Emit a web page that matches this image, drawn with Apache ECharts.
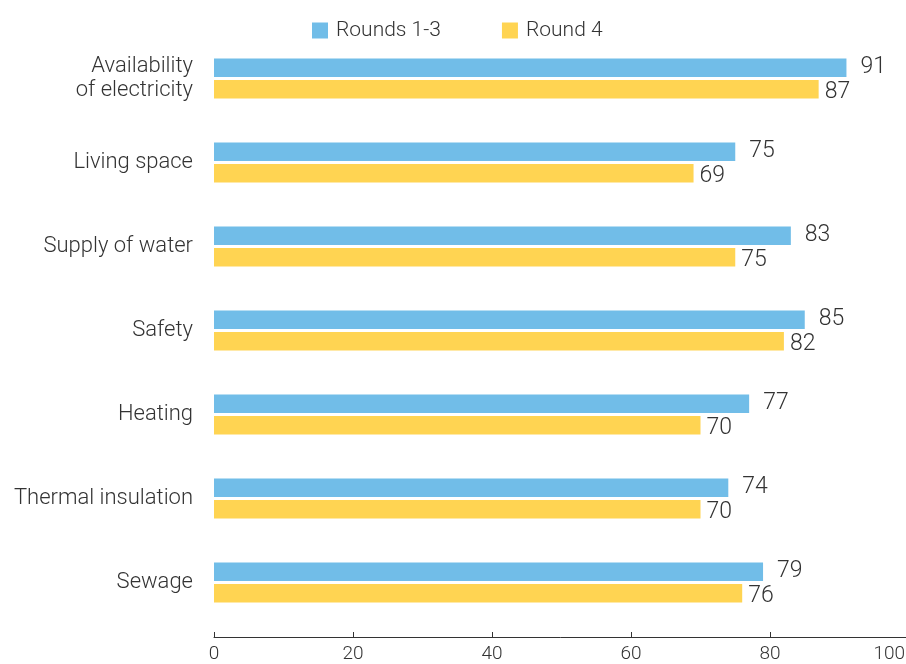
<!DOCTYPE html>
<html><head><meta charset="utf-8">
<script src="https://cdn.jsdelivr.net/npm/echarts@6/dist/echarts.min.js"></script>
<style>html,body{margin:0;padding:0;background:#fff}#c{width:906px;height:664px}</style>
</head><body><div id="c"></div>
<script>
var categories = ["Availability\nof electricity","Living space","Supply of water","Safety","Heating","Thermal insulation","Sewage"];
var rounds13 = [91,75,83,85,77,74,79];
var round4 = [87,69,75,82,70,70,76];
var seriesNames = ["Rounds 1-3","Round 4"];
var xTicks = [0,20,40,60,80,100];

var FONT = "Roboto";
var chart = echarts.init(document.getElementById('c'));
chart.setOption({
  animation:false,
  textStyle:{fontFamily:FONT},
  legend:{
    left:307, top:15, itemWidth:16, itemHeight:16, itemGap:61,
    icon:'rect',
    textStyle:{fontFamily:FONT, fontWeight:300, fontSize:21, color:'#333', padding:[0,0,0,3]},
    data:seriesNames
  },
  grid:{left:214, width:695, top:36.5, bottom:39.5, containLabel:false, outerBoundsMode:'none'},
  xAxis:{
    type:'value', min:xTicks[0], max:xTicks[xTicks.length-1], interval:20,
    offset:12.5,
    axisLine:{show:true, lineStyle:{color:'#333', width:1}},
    axisTick:{show:true, inside:true, length:5, lineStyle:{color:'#333'}},
    splitLine:{show:false},
    axisLabel:{fontFamily:FONT, fontWeight:300, fontSize:19, color:'#333', margin:8, hideOverlap:false,
      alignMaxLabel:'right',
      formatter:function(v){
        if(xTicks.indexOf(v)<0) return '';
        return v===xTicks[xTicks.length-1] ? '{m|'+v+'}' : String(v);
      },
      rich:{m:{fontFamily:FONT, fontWeight:300, fontSize:19, color:'#333', padding:[0,4,0,0]}}
    }
  },
  yAxis:{
    type:'category', data:categories, inverse:true,
    axisLine:{show:false}, axisTick:{show:false},
    axisLabel:{fontFamily:FONT, fontWeight:300, fontSize:22, color:'#333', margin:21, lineHeight:24, align:'right'}
  },
  series:[
    {name:seriesNames[0], type:'bar', data:rounds13, barWidth:18.5, barGap:'16%',
     itemStyle:{color:'#71bde8'},
     label:{show:true, position:'right', distance:14, offset:[0,-1], fontFamily:FONT, fontWeight:300, fontSize:23, color:'#333'}},
    {name:seriesNames[1], type:'bar', data:round4, barWidth:18.5,
     itemStyle:{color:'#ffd452'},
     label:{show:true, position:'right', distance:6, offset:[0,3], fontFamily:FONT, fontWeight:300, fontSize:23, color:'#333'}}
  ]
});
</script></body></html>
